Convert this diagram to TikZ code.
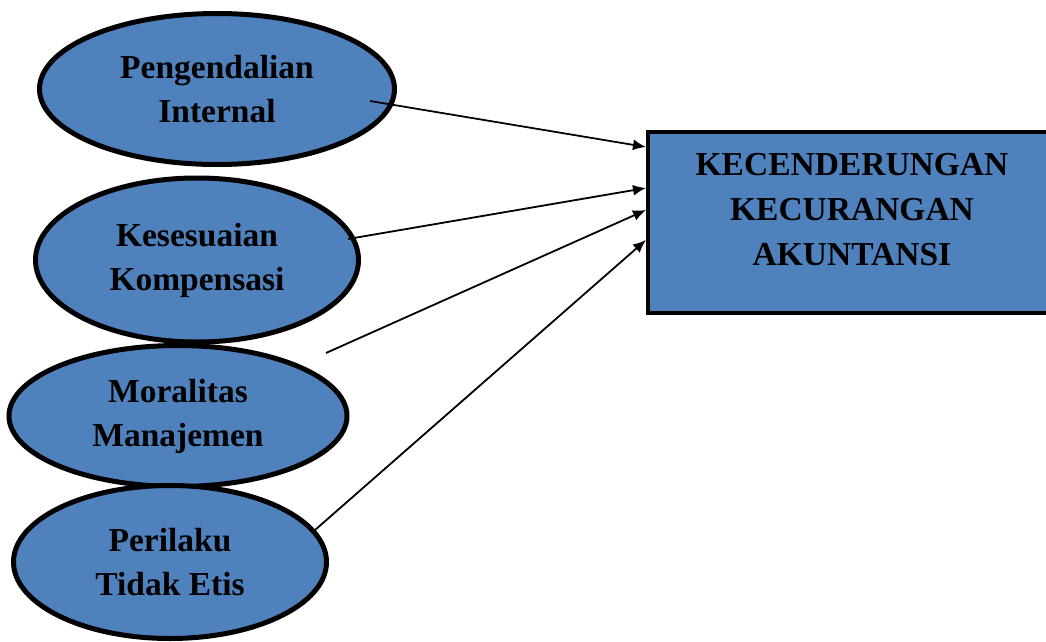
\documentclass[tikz,border=0pt]{standalone}
\usepackage{fontspec}
\setmainfont{Liberation Serif}
\usepackage{xcolor}
\usepackage{tikz}
\usetikzlibrary{arrows.meta,shapes.geometric,calc}
\definecolor{VarBlue}{HTML}{4F81BD}

\begin{document}
\begin{tikzpicture}[
  x=1pt, y=-1pt,
  var/.style={ellipse,draw,line width=5pt,fill=VarBlue,inner sep=0pt,align=center,
    font=\fontsize{33.5}{44}\selectfont\bfseries},
  target/.style={rectangle,draw,line width=4pt,fill=VarBlue,inner sep=21pt,
    minimum width=408pt,minimum height=181pt,font=\fontsize{33.5}{45}\selectfont\bfseries},
  arrow/.style={-{Latex[length=13pt,width=11pt]},line width=1.8pt}
]
  \useasboundingbox (0,0) rectangle (1046,642);

  \node[var, minimum width=355pt, minimum height=151pt] (internal) at (217,89) {Pengendalian\\Internal};
  \node[var, minimum width=323pt, minimum height=164pt] (kompensasi) at (197,260) {Kesesuaian\\Kompensasi};
  \node[var, minimum width=338pt, minimum height=141pt] (moralitas) at (178,416) {Moralitas\\Manajemen};
  \node[var, minimum width=313pt, minimum height=153pt] (etis) at (170,562) {Perilaku\\Tidak Etis};

  \node[target] (kecurangan) at (852,222.5)
    {\parbox[c][139pt][t]{360pt}{\centering KECENDERUNGAN\\KECURANGAN\\AKUNTANSI}};

  % free ends of the arrows
  \coordinate (s1) at ($(internal.center)+(153,12)$);
  \coordinate (s2) at ($(kompensasi.center)+(151,-21)$);
  \coordinate (s3) at ($(moralitas.center)+(148,-63)$);
  \coordinate (s4) at ($(etis.center)+(145,-32)$);

  \draw[arrow] (s1) -- ($(kecurangan.north west)+(0,17)$);
  \draw[arrow] (s2) -- ($(kecurangan.north west)+(0,58)$);
  \draw[arrow] (s3) -- ($(kecurangan.north west)+(0,80)$);
  \draw[arrow] (s4) -- ($(kecurangan.north west)+(0,110)$);
\end{tikzpicture}
\end{document}
